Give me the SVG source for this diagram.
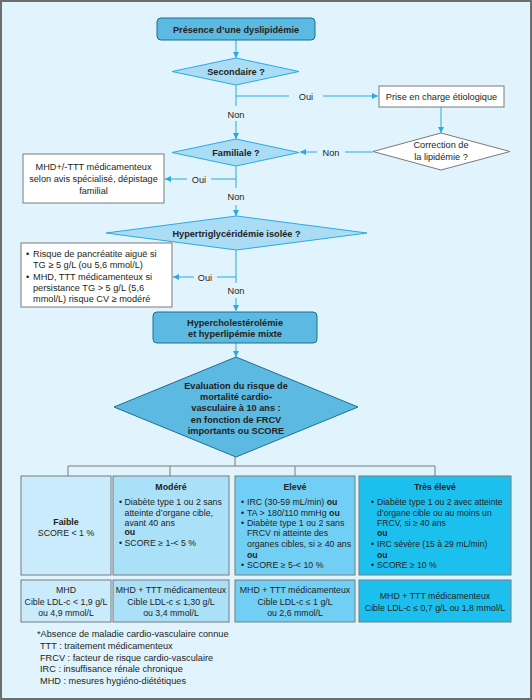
<svg xmlns="http://www.w3.org/2000/svg" width="532" height="700" viewBox="0 0 532 700">
<defs>
<marker id="ah" viewBox="0 0 10 10" refX="10" refY="5" markerWidth="6" markerHeight="6" markerUnits="userSpaceOnUse" orient="auto">
<path d="M0,0 L10,5 L0,10 z" fill="#29abe2"/>
</marker>
</defs>
<style>
text{font-family:"Liberation Sans",Arial,sans-serif;font-size:9.2px;fill:#231f20}
.s text{font-size:8.8px}
.xs text{font-size:8.6px}
.b{font-weight:bold}
.c{text-anchor:middle}
.conn{stroke:#29abe2;stroke-width:1;fill:none}
.arr{marker-end:url(#ah)}
.gray{stroke:#7a7a7a;stroke-width:1;fill:none}
.dark{fill:#5cb9e1;stroke:#1d6e93;stroke-width:1}
.light{fill:#aadcf6;stroke:#29abe2;stroke-width:1}
.white{fill:#ffffff;stroke:#7a7a7a;stroke-width:1}
.gb{stroke:#7a7a7a;stroke-width:1}
</style>
<rect x="1" y="1" width="530" height="698" fill="#e1f3fd" stroke="#6d6e70" stroke-width="2"/>

<g id="connectors">
<path class="conn arr" d="M236,40 V58"/>
<path class="conn" d="M236,85 V106"/>
<path class="conn arr" d="M236,121 V139"/>
<path class="conn" d="M236,96 H289"/>
<path class="conn arr" d="M323,96 H378"/>
<path class="conn arr" d="M441,107 V133"/>
<path class="conn" d="M373,152 H345"/>
<path class="conn arr" d="M317,152 H300"/>
<path class="conn" d="M236,166 V188"/>
<path class="conn arr" d="M236,205 V216"/>
<path class="conn" d="M236,179 H211"/>
<path class="conn arr" d="M187,179 H165"/>
<path class="conn" d="M236,250 V283"/>
<path class="conn arr" d="M236,298 V311"/>
<path class="conn" d="M236,277 H217"/>
<path class="conn arr" d="M194,277 H173"/>
<path class="conn arr" d="M236,343 V357"/>
<path class="gray" d="M235,457 V466 M68,476 V466 H435 V476 M170,466 V476 M295,466 V476"/>
<text class="c" x="236" y="117.5">Non</text>
<text class="c" x="306" y="99.5">Oui</text>
<text class="c" x="331" y="155.5">Non</text>
<text class="c" x="236" y="200">Non</text>
<text class="c" x="199" y="182.5">Oui</text>
<text class="c" x="236" y="293.5">Non</text>
<text class="c" x="205" y="280.5">Oui</text>
</g>

<g id="n-presence">
<rect class="dark" x="157" y="18" width="158" height="22" rx="4"/>
<text class="b c" x="236" y="32.5">Présence d’une dyslipidémie</text>
</g>
<g id="n-secondaire">
<polygon class="light" points="172,71.5 236,58 299,71.5 236,85"/>
<text class="b c" x="236" y="75">Secondaire ?</text>
</g>
<g id="n-prise">
<rect class="white" x="379" y="86" width="125" height="21"/>
<text class="c" x="441.5" y="99.5">Prise en charge étiologique</text>
</g>
<g id="n-correction">
<polygon points="373,151.5 441,133 510,151.5 441,170" fill="#ffffff" stroke="#7a7a7a" stroke-width="1"/>
<text class="c" x="441" y="148">Correction de</text>
<text class="c" x="441" y="160">la lipidémie ?</text>
</g>
<g id="n-familiale">
<polygon class="light" points="172,152.5 236,139 299,152.5 236,166"/>
<text class="b c" x="236" y="156">Familiale ?</text>
</g>
<g id="n-mhd-fam">
<rect class="white" x="23" y="154" width="141" height="49"/>
<text class="c" x="93.5" y="170">MHD+/-TTT médicamenteux</text>
<text class="c" x="93.5" y="182">selon avis spécialisé, dépistage</text>
<text class="c" x="93.5" y="194">familial</text>
</g>
<g id="n-hypertrig">
<polygon class="light" points="106,233 236.5,216 367,233 236.5,250"/>
<text class="b c" x="236.5" y="236.5">Hypertriglycéridémie isolée ?</text>
</g>
<g id="n-risque">
<rect class="white" x="21" y="243" width="151" height="64"/>
<text x="26" y="257">•</text><text x="33" y="257">Risque de pancréatite aiguë si</text>
<text x="33" y="268">TG ≥ 5 g/L (ou 5,6 mmol/L)</text>
<text x="26" y="280">•</text><text x="33" y="280">MHD, TTT médicamenteux si</text>
<text x="33" y="291">persistance TG &gt; 5 g/L (5,6</text>
<text x="33" y="302">mmol/L) risque CV ≥ modéré</text>
</g>
<g id="n-hyperchol">
<rect class="dark" x="153" y="312" width="164" height="31" rx="4"/>
<text class="b c" x="235" y="325.5">Hypercholestérolémie</text>
<text class="b c" x="235" y="337">et hyperlipémie mixte</text>
</g>
<g id="n-evaluation">
<polygon class="dark" points="114,407 236,357 358,407 236,457"/>
<text class="b c" x="236" y="388.5">Evaluation du risque de</text>
<text class="b c" x="236" y="400">mortalité cardio-</text>
<text class="b c" x="236" y="411">vasculaire à 10 ans :</text>
<text class="b c" x="236" y="422.5">en fonction de FRCV</text>
<text class="b c" x="236" y="434">importants ou SCORE</text>
</g>

<g id="n-faible" class="s">
<rect class="gb" x="21" y="476" width="90" height="99" fill="#c9ebfb"/>
<text class="b c" x="66" y="524.5">Faible</text>
<text class="c" x="66" y="536">SCORE &lt; 1 %</text>
</g>
<g id="n-modere" class="s">
<rect class="gb" x="113" y="476" width="116" height="99" fill="#abe0f9"/>
<text class="b c" x="171" y="489.5">Modéré</text>
<text x="119" y="504.5">•</text><text x="124.5" y="504.5">Diabète type 1 ou 2 sans</text>
<text x="124.5" y="515.5">atteinte d’organe cible,</text>
<text x="124.5" y="525.5">avant 40 ans</text>
<text class="b" x="124.5" y="535">ou</text>
<text x="119" y="546">•</text><text x="124.5" y="546">SCORE ≥ 1-&lt; 5 %</text>
</g>
<g id="n-eleve" class="s">
<rect class="gb" x="235" y="476" width="120" height="99" fill="#71cff5"/>
<text class="b c" x="295" y="489.5">Elevé</text>
<text x="241" y="505">•</text><text x="247" y="505">IRC (30-59 mL/min) <tspan class="b">ou</tspan></text>
<text x="241" y="515.5">•</text><text x="247" y="515.5">TA &gt; 180/110 mmHg <tspan class="b">ou</tspan></text>
<text x="241" y="526">•</text><text x="247" y="526">Diabète type 1 ou 2 sans</text>
<text x="247" y="536">FRCV ni atteinte des</text>
<text x="247" y="546.5">organes cibles, si ≥ 40 ans</text>
<text class="b" x="247" y="557.5">ou</text>
<text x="241" y="568">•</text><text x="247" y="568">SCORE ≥ 5-&lt; 10 %</text>
</g>
<g id="n-tres-eleve" class="xs">
<rect class="gb" x="359" y="476" width="152" height="99" fill="#1cc0ef"/>
<text class="b c" x="435" y="489.5">Très élevé</text>
<text x="371" y="505">•</text><text x="377" y="505">Diabète type 1 ou 2 avec atteinte</text>
<text x="377" y="515.5">d’organe cible ou au moins un</text>
<text x="377" y="526">FRCV, si ≥ 40 ans</text>
<text class="b" x="377" y="536">ou</text>
<text x="371" y="546.5">•</text><text x="377" y="546.5">IRC sévère (15 à 29 mL/min)</text>
<text class="b" x="377" y="557.5">ou</text>
<text x="371" y="568">•</text><text x="377" y="568">SCORE ≥ 10 %</text>
</g>

<g id="n-cible-faible" class="s">
<rect class="gb" x="21" y="580" width="90" height="42" fill="#c9ebfb"/>
<text class="c" x="66" y="593">MHD</text>
<text class="c" x="66" y="604.5">Cible LDL-c &lt; 1,9 g/L</text>
<text class="c" x="66" y="616">ou 4,9 mmol/L</text>
</g>
<g id="n-cible-modere" class="s">
<rect class="gb" x="113" y="580" width="116" height="42" fill="#abe0f9"/>
<text class="c" x="171" y="593">MHD + TTT médicamenteux</text>
<text class="c" x="171" y="604.5">Cible LDL-c ≤ 1,30 g/L</text>
<text class="c" x="171" y="616">ou 3,4 mmol/L</text>
</g>
<g id="n-cible-eleve" class="s">
<rect class="gb" x="235" y="580" width="120" height="42" fill="#71cff5"/>
<text class="c" x="295" y="593">MHD + TTT médicamenteux</text>
<text class="c" x="295" y="604.5">Cible LDL-c ≤ 1 g/L</text>
<text class="c" x="295" y="616">ou 2,6 mmol/L</text>
</g>
<g id="n-cible-tres-eleve" class="s">
<rect class="gb" x="359" y="580" width="152" height="42" fill="#1cc0ef"/>
<text class="c" x="435" y="599">MHD + TTT médicamenteux</text>
<text class="c" x="435" y="610.5">Cible LDL-c ≤ 0,7 g/L ou 1,8 mmol/L</text>
</g>

<g id="legend">
<text x="37" y="637">*Absence de maladie cardio-vasculaire connue</text>
<text x="40" y="649">TTT : traitement médicamenteux</text>
<text x="40" y="660.5">FRCV : facteur de risque cardio-vasculaire</text>
<text x="40" y="672">IRC : insuffisance rénale chronique</text>
<text x="40" y="683.5">MHD : mesures hygiéno-diététiques</text>
</g>
</svg>
